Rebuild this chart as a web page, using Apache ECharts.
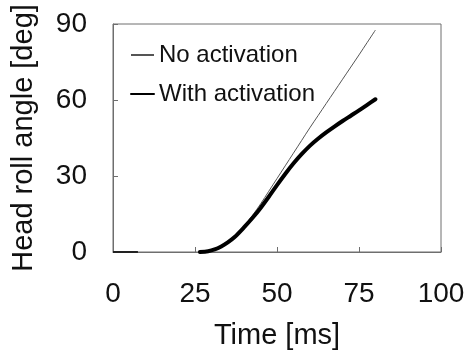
<!DOCTYPE html>
<html>
<head>
<meta charset="utf-8">
<script src="https://cdn.jsdelivr.net/npm/echarts@6/dist/echarts.min.js"></script>
<style>
html,body{margin:0;padding:0;background:#fff;}
#chart{width:470px;height:351px;}
</style>
</head>
<body>
<div id="chart"></div>
<script>
// Data
var timeMs = [26.5, 29, 31, 33, 35, 37, 40, 42.5, 45, 47.5, 50, 52.5, 55, 57.5, 60, 62.5, 65, 67.5, 70, 72.5, 75, 77.5, 80];
var noActivation = [0, 0.3, 1.0, 2.2, 3.8, 5.8, 10.3, 14.4, 19, 24, 29, 34, 39, 44, 49, 53.8, 58.6, 63.4, 68.2, 73, 77.8, 82.7, 87.6];
var withActivation = [0, 0.3, 1.0, 2.2, 3.8, 5.8, 9.8, 13.4, 17.4, 21.8, 26.4, 30.8, 34.9, 38.6, 41.9, 44.7, 47.2, 49.5, 51.7, 53.8, 55.9, 58.1, 60.3];
var initialTime = [0, 7.6];
var initialAngle = [0, 0];
var seriesNames = ['No activation', 'With activation'];
var xTicks = [0, 25, 50, 75, 100];
var yTicks = [0, 30, 60, 90];

function pairs(xs, ys) {
  var out = [];
  for (var i = 0; i < xs.length; i++) out.push([xs[i], ys[i]]);
  return out;
}

var font = 'Arial, "Liberation Sans", sans-serif';
var chart = echarts.init(document.getElementById('chart'));
chart.setOption({
  animation: false,
  backgroundColor: '#fff',
  grid: {
    left: 113, right: 29, top: 24, bottom: 99,
    outerBoundsMode: 'none', containLabel: false,
    show: true, borderColor: '#6e6e6e', borderWidth: 1, backgroundColor: 'transparent'
  },
  legend: {
    orient: 'vertical',
    left: 125, top: 38,
    itemWidth: 23, itemHeight: 14, itemGap: 15,
    itemStyle: { opacity: 0 },
    textStyle: { fontFamily: font, fontSize: 24, color: '#111' },
    data: seriesNames
  },
  xAxis: {
    type: 'value',
    min: xTicks[0], max: xTicks[xTicks.length - 1], interval: 25,
    name: 'Time [ms]', nameLocation: 'middle', nameGap: 69,
    nameTextStyle: { fontFamily: font, fontSize: 29, color: '#111' },
    axisLine: { show: true, lineStyle: { color: '#6e6e6e', width: 1 } },
    axisTick: { show: true, inside: true, length: 5, lineStyle: { color: '#6e6e6e' } },
    axisLabel: { fontFamily: font, fontSize: 28, color: '#111', margin: 28 },
    splitLine: { show: false }
  },
  yAxis: {
    type: 'value',
    min: yTicks[0], max: yTicks[yTicks.length - 1], interval: 30,
    name: 'Head roll angle [deg]', nameLocation: 'middle', nameGap: 75,
    nameTextStyle: { fontFamily: font, fontSize: 29, color: '#111' },
    axisLine: { show: true, lineStyle: { color: '#6e6e6e', width: 1 } },
    axisTick: { show: true, inside: true, length: 5, lineStyle: { color: '#6e6e6e' } },
    axisLabel: { fontFamily: font, fontSize: 28, color: '#111', margin: 26 },
    splitLine: { show: false }
  },
  series: [
    {
      name: seriesNames[0], type: 'line', symbol: 'none', smooth: 0.3,
      lineStyle: { color: '#555', width: 1 },
      itemStyle: { color: '#555' },
      data: pairs(timeMs, noActivation), z: 3
    },
    {
      name: seriesNames[1], type: 'line', symbol: 'none', smooth: 0.3,
      lineStyle: { color: '#000', width: 4, cap: 'round', join: 'round' },
      itemStyle: { color: '#000' },
      data: pairs(timeMs, withActivation), z: 4
    },
    {
      name: 'initial', type: 'line', symbol: 'none',
      lineStyle: { color: '#222', width: 2 },
      data: pairs(initialTime, initialAngle), z: 2
    }
  ]
});
</script>
</body>
</html>
